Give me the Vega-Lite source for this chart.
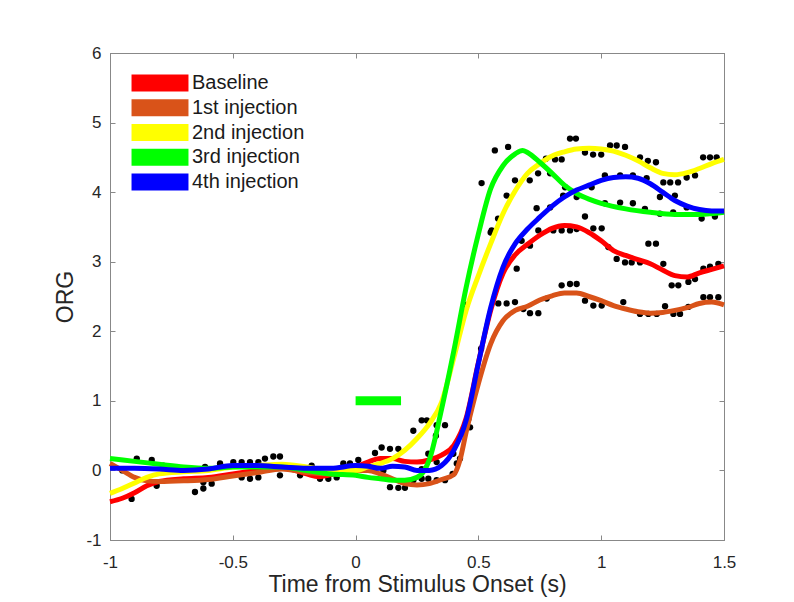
{
  "$schema": "https://vega.github.io/schema/vega-lite/v6.json",
  "width": 614,
  "height": 487,
  "autosize": "none",
  "padding": {"left": 110, "top": 53, "right": 70, "bottom": 62},
  "background": "white",
  "config": {
    "font": "Liberation Sans",
    "view": {"stroke": "#888888", "strokeWidth": 1},
    "axis": {
      "grid": false,
      "domainColor": "#888888",
      "tickColor": "#888888",
      "tickSize": -5,
      "labelFont": "Liberation Sans",
      "labelFontSize": 17,
      "labelColor": "#262626",
      "titleFont": "Liberation Sans",
      "titleFontSize": 23,
      "titleFontWeight": "normal",
      "titleColor": "#262626"
    }
  },
  "datasets": {
    "dots": [
      {"t": -0.95, "v": 0.0}, {"t": -0.891, "v": 0.17}, {"t": -0.83, "v": 0.15}, {"t": -0.783, "v": 0.07}, {"t": -0.81, "v": -0.22}, {"t": -0.912, "v": -0.41},
      {"t": -0.654, "v": -0.31}, {"t": -0.62, "v": -0.26}, {"t": -0.62, "v": -0.17}, {"t": -0.586, "v": -0.19}, {"t": -0.613, "v": 0.05}, {"t": -0.552, "v": 0.1},
      {"t": -0.498, "v": 0.12}, {"t": -0.464, "v": 0.12}, {"t": -0.43, "v": 0.12}, {"t": -0.396, "v": 0.12}, {"t": -0.369, "v": 0.17}, {"t": -0.335, "v": 0.2},
      {"t": -0.308, "v": 0.2}, {"t": -0.464, "v": -0.1}, {"t": -0.43, "v": -0.12}, {"t": -0.396, "v": -0.1}, {"t": -0.308, "v": -0.07}, {"t": -0.226, "v": -0.07},
      {"t": -0.179, "v": 0.07}, {"t": -0.145, "v": -0.12}, {"t": -0.111, "v": -0.12}, {"t": -0.077, "v": -0.1}, {"t": -0.05, "v": 0.1}, {"t": -0.023, "v": 0.1},
      {"t": 0.011, "v": 0.15}, {"t": 0.079, "v": 0.25}, {"t": 0.106, "v": 0.33}, {"t": 0.14, "v": 0.31}, {"t": 0.174, "v": 0.31}, {"t": 0.113, "v": 0.0},
      {"t": 0.14, "v": -0.24}, {"t": 0.174, "v": -0.25}, {"t": 0.201, "v": -0.25}, {"t": 0.235, "v": -0.14}, {"t": 0.235, "v": 0.57}, {"t": 0.269, "v": 0.72},
      {"t": 0.29, "v": 0.72}, {"t": 0.33, "v": 0.65}, {"t": 0.364, "v": 0.65}, {"t": 0.327, "v": 0.5}, {"t": 0.459, "v": 0.74}, {"t": 0.466, "v": 0.62},
      {"t": 0.296, "v": 0.24}, {"t": 0.33, "v": 0.12}, {"t": 0.398, "v": 0.24}, {"t": 0.412, "v": 0.1}, {"t": 0.425, "v": 0.17}, {"t": 0.395, "v": -0.05},
      {"t": 0.269, "v": -0.12}, {"t": 0.296, "v": -0.12}, {"t": 0.33, "v": -0.14}, {"t": 0.364, "v": -0.14}, {"t": 0.269, "v": 0.02},
      {"t": 0.452, "v": 2.38}, {"t": 0.511, "v": 1.75}, {"t": 0.513, "v": 4.13}, {"t": 0.55, "v": 3.42}, {"t": 0.567, "v": 4.6}, {"t": 0.621, "v": 4.65},
      {"t": 0.615, "v": 3.95}, {"t": 0.58, "v": 3.62}, {"t": 0.581, "v": 2.4}, {"t": 0.615, "v": 2.4}, {"t": 0.649, "v": 2.42}, {"t": 0.656, "v": 2.9},
      {"t": 0.676, "v": 3.3}, {"t": 0.71, "v": 3.23}, {"t": 0.683, "v": 2.32}, {"t": 0.71, "v": 2.26}, {"t": 0.744, "v": 2.26}, {"t": 0.778, "v": 2.47},
      {"t": 0.839, "v": 2.66}, {"t": 0.873, "v": 2.68}, {"t": 0.9, "v": 2.68},
      {"t": 0.873, "v": 4.77}, {"t": 0.897, "v": 4.77}, {"t": 0.934, "v": 4.57}, {"t": 0.967, "v": 4.54}, {"t": 1.0, "v": 4.54}, {"t": 1.036, "v": 4.67},
      {"t": 1.063, "v": 4.67}, {"t": 1.097, "v": 4.65}, {"t": 1.158, "v": 4.5}, {"t": 1.19, "v": 4.45}, {"t": 1.223, "v": 4.43}, {"t": 1.415, "v": 4.5},
      {"t": 1.443, "v": 4.5}, {"t": 1.47, "v": 4.5}, {"t": 1.253, "v": 4.14}, {"t": 1.281, "v": 4.14}, {"t": 1.313, "v": 4.14}, {"t": 1.348, "v": 4.21},
      {"t": 1.382, "v": 4.24}, {"t": 0.649, "v": 4.17}, {"t": 0.709, "v": 4.17}, {"t": 0.743, "v": 4.27}, {"t": 0.775, "v": 4.48}, {"t": 0.812, "v": 4.47},
      {"t": 0.839, "v": 4.47}, {"t": 0.792, "v": 4.27}, {"t": 0.845, "v": 3.95}, {"t": 0.853, "v": 4.07}, {"t": 0.9, "v": 3.93}, {"t": 0.961, "v": 4.07},
      {"t": 1.015, "v": 4.24}, {"t": 1.077, "v": 4.24}, {"t": 1.129, "v": 4.24}, {"t": 1.185, "v": 4.2}, {"t": 1.015, "v": 3.84}, {"t": 1.077, "v": 3.85},
      {"t": 1.129, "v": 3.84}, {"t": 1.178, "v": 3.76}, {"t": 1.239, "v": 3.69}, {"t": 1.293, "v": 3.71}, {"t": 1.348, "v": 3.78}, {"t": 1.409, "v": 3.62},
      {"t": 1.463, "v": 3.65}, {"t": 0.737, "v": 3.77}, {"t": 0.792, "v": 3.78}, {"t": 0.934, "v": 3.65}, {"t": 1.239, "v": 3.93}, {"t": 1.3, "v": 3.95},
      {"t": 0.554, "v": 3.45}, {"t": 0.744, "v": 3.45}, {"t": 0.805, "v": 3.45}, {"t": 0.839, "v": 3.45}, {"t": 0.873, "v": 3.45}, {"t": 0.9, "v": 3.47},
      {"t": 0.968, "v": 3.48}, {"t": 1.002, "v": 3.48}, {"t": 1.192, "v": 3.26}, {"t": 1.223, "v": 3.26}, {"t": 1.029, "v": 3.21}, {"t": 1.063, "v": 3.04},
      {"t": 1.097, "v": 2.99}, {"t": 1.124, "v": 2.99}, {"t": 1.158, "v": 2.99}, {"t": 1.253, "v": 2.97}, {"t": 1.287, "v": 2.66}, {"t": 1.314, "v": 2.66},
      {"t": 1.355, "v": 2.71}, {"t": 1.382, "v": 2.75}, {"t": 1.416, "v": 2.9}, {"t": 1.443, "v": 2.93}, {"t": 1.477, "v": 2.97},
      {"t": 0.934, "v": 2.44}, {"t": 0.968, "v": 2.37}, {"t": 1.002, "v": 2.37}, {"t": 1.09, "v": 2.42}, {"t": 1.158, "v": 2.25}, {"t": 1.192, "v": 2.25},
      {"t": 1.226, "v": 2.25}, {"t": 1.26, "v": 2.36}, {"t": 1.294, "v": 2.25}, {"t": 1.321, "v": 2.25}, {"t": 1.355, "v": 2.35}, {"t": 1.416, "v": 2.49},
      {"t": 1.443, "v": 2.49}, {"t": 1.477, "v": 2.49}
    ],
    "curves": [
      {"s": "Baseline", "t": -1, "v": -0.45}, {"s": "Baseline", "t": -0.95, "v": -0.4}, {"s": "Baseline", "t": -0.9, "v": -0.32}, {"s": "Baseline", "t": -0.85, "v": -0.22},
      {"s": "Baseline", "t": -0.8, "v": -0.16}, {"s": "Baseline", "t": -0.7, "v": -0.12}, {"s": "Baseline", "t": -0.6, "v": -0.1}, {"s": "Baseline", "t": -0.5, "v": -0.05},
      {"s": "Baseline", "t": -0.4, "v": 0.0}, {"s": "Baseline", "t": -0.3, "v": 0.04}, {"s": "Baseline", "t": -0.2, "v": -0.05}, {"s": "Baseline", "t": -0.15, "v": -0.09},
      {"s": "Baseline", "t": -0.1, "v": -0.06}, {"s": "Baseline", "t": -0.05, "v": 0.0}, {"s": "Baseline", "t": 0, "v": 0.05}, {"s": "Baseline", "t": 0.05, "v": 0.12},
      {"s": "Baseline", "t": 0.1, "v": 0.17}, {"s": "Baseline", "t": 0.15, "v": 0.17}, {"s": "Baseline", "t": 0.2, "v": 0.13}, {"s": "Baseline", "t": 0.25, "v": 0.12},
      {"s": "Baseline", "t": 0.3, "v": 0.15}, {"s": "Baseline", "t": 0.35, "v": 0.22}, {"s": "Baseline", "t": 0.4, "v": 0.36}, {"s": "Baseline", "t": 0.45, "v": 0.75},
      {"s": "Baseline", "t": 0.5, "v": 1.55}, {"s": "Baseline", "t": 0.55, "v": 2.3}, {"s": "Baseline", "t": 0.6, "v": 2.83}, {"s": "Baseline", "t": 0.65, "v": 3.1},
      {"s": "Baseline", "t": 0.7, "v": 3.25}, {"s": "Baseline", "t": 0.75, "v": 3.38}, {"s": "Baseline", "t": 0.8, "v": 3.48}, {"s": "Baseline", "t": 0.85, "v": 3.52},
      {"s": "Baseline", "t": 0.9, "v": 3.5}, {"s": "Baseline", "t": 0.95, "v": 3.42}, {"s": "Baseline", "t": 1.0, "v": 3.3}, {"s": "Baseline", "t": 1.05, "v": 3.16},
      {"s": "Baseline", "t": 1.1, "v": 3.09}, {"s": "Baseline", "t": 1.15, "v": 3.03}, {"s": "Baseline", "t": 1.2, "v": 2.97}, {"s": "Baseline", "t": 1.25, "v": 2.88},
      {"s": "Baseline", "t": 1.3, "v": 2.8}, {"s": "Baseline", "t": 1.35, "v": 2.78}, {"s": "Baseline", "t": 1.4, "v": 2.84}, {"s": "Baseline", "t": 1.45, "v": 2.89},
      {"s": "Baseline", "t": 1.5, "v": 2.94},

      {"s": "1st injection", "t": -1, "v": 0.1}, {"s": "1st injection", "t": -0.95, "v": 0.0}, {"s": "1st injection", "t": -0.9, "v": -0.1}, {"s": "1st injection", "t": -0.85, "v": -0.15},
      {"s": "1st injection", "t": -0.8, "v": -0.16}, {"s": "1st injection", "t": -0.7, "v": -0.15}, {"s": "1st injection", "t": -0.6, "v": -0.13}, {"s": "1st injection", "t": -0.5, "v": -0.08},
      {"s": "1st injection", "t": -0.4, "v": -0.03}, {"s": "1st injection", "t": -0.3, "v": 0.02}, {"s": "1st injection", "t": -0.2, "v": -0.03}, {"s": "1st injection", "t": -0.1, "v": -0.05},
      {"s": "1st injection", "t": 0, "v": 0.0}, {"s": "1st injection", "t": 0.05, "v": 0.0}, {"s": "1st injection", "t": 0.1, "v": -0.05}, {"s": "1st injection", "t": 0.15, "v": -0.12},
      {"s": "1st injection", "t": 0.2, "v": -0.19}, {"s": "1st injection", "t": 0.25, "v": -0.21}, {"s": "1st injection", "t": 0.3, "v": -0.19}, {"s": "1st injection", "t": 0.35, "v": -0.13},
      {"s": "1st injection", "t": 0.4, "v": -0.06}, {"s": "1st injection", "t": 0.425, "v": 0.15}, {"s": "1st injection", "t": 0.45, "v": 0.55}, {"s": "1st injection", "t": 0.5, "v": 1.25},
      {"s": "1st injection", "t": 0.55, "v": 1.82}, {"s": "1st injection", "t": 0.6, "v": 2.15}, {"s": "1st injection", "t": 0.65, "v": 2.3}, {"s": "1st injection", "t": 0.7, "v": 2.36},
      {"s": "1st injection", "t": 0.75, "v": 2.45}, {"s": "1st injection", "t": 0.8, "v": 2.51}, {"s": "1st injection", "t": 0.85, "v": 2.55}, {"s": "1st injection", "t": 0.9, "v": 2.55},
      {"s": "1st injection", "t": 0.95, "v": 2.5}, {"s": "1st injection", "t": 1.0, "v": 2.44}, {"s": "1st injection", "t": 1.05, "v": 2.37}, {"s": "1st injection", "t": 1.1, "v": 2.32},
      {"s": "1st injection", "t": 1.15, "v": 2.28}, {"s": "1st injection", "t": 1.2, "v": 2.26}, {"s": "1st injection", "t": 1.25, "v": 2.27}, {"s": "1st injection", "t": 1.3, "v": 2.3},
      {"s": "1st injection", "t": 1.35, "v": 2.34}, {"s": "1st injection", "t": 1.4, "v": 2.4}, {"s": "1st injection", "t": 1.45, "v": 2.42}, {"s": "1st injection", "t": 1.5, "v": 2.38},

      {"s": "2nd injection", "t": -1, "v": -0.33}, {"s": "2nd injection", "t": -0.95, "v": -0.26}, {"s": "2nd injection", "t": -0.9, "v": -0.18}, {"s": "2nd injection", "t": -0.85, "v": -0.1},
      {"s": "2nd injection", "t": -0.8, "v": -0.05}, {"s": "2nd injection", "t": -0.7, "v": -0.02}, {"s": "2nd injection", "t": -0.6, "v": 0.0}, {"s": "2nd injection", "t": -0.5, "v": 0.05},
      {"s": "2nd injection", "t": -0.4, "v": 0.07}, {"s": "2nd injection", "t": -0.3, "v": 0.09}, {"s": "2nd injection", "t": -0.2, "v": 0.05}, {"s": "2nd injection", "t": -0.1, "v": 0.0},
      {"s": "2nd injection", "t": 0, "v": 0.0}, {"s": "2nd injection", "t": 0.05, "v": 0.05}, {"s": "2nd injection", "t": 0.1, "v": 0.1}, {"s": "2nd injection", "t": 0.15, "v": 0.17},
      {"s": "2nd injection", "t": 0.2, "v": 0.29}, {"s": "2nd injection", "t": 0.25, "v": 0.46}, {"s": "2nd injection", "t": 0.3, "v": 0.67}, {"s": "2nd injection", "t": 0.35, "v": 0.98},
      {"s": "2nd injection", "t": 0.4, "v": 1.62}, {"s": "2nd injection", "t": 0.45, "v": 2.3}, {"s": "2nd injection", "t": 0.5, "v": 2.8}, {"s": "2nd injection", "t": 0.55, "v": 3.26},
      {"s": "2nd injection", "t": 0.6, "v": 3.69}, {"s": "2nd injection", "t": 0.65, "v": 4.02}, {"s": "2nd injection", "t": 0.7, "v": 4.27}, {"s": "2nd injection", "t": 0.75, "v": 4.41},
      {"s": "2nd injection", "t": 0.8, "v": 4.52}, {"s": "2nd injection", "t": 0.85, "v": 4.58}, {"s": "2nd injection", "t": 0.9, "v": 4.62}, {"s": "2nd injection", "t": 0.95, "v": 4.63},
      {"s": "2nd injection", "t": 1.0, "v": 4.62}, {"s": "2nd injection", "t": 1.05, "v": 4.59}, {"s": "2nd injection", "t": 1.1, "v": 4.53}, {"s": "2nd injection", "t": 1.15, "v": 4.45},
      {"s": "2nd injection", "t": 1.2, "v": 4.35}, {"s": "2nd injection", "t": 1.25, "v": 4.27}, {"s": "2nd injection", "t": 1.3, "v": 4.25}, {"s": "2nd injection", "t": 1.35, "v": 4.28},
      {"s": "2nd injection", "t": 1.4, "v": 4.34}, {"s": "2nd injection", "t": 1.45, "v": 4.41}, {"s": "2nd injection", "t": 1.5, "v": 4.47},

      {"s": "3rd injection", "t": -1, "v": 0.17}, {"s": "3rd injection", "t": -0.9, "v": 0.13}, {"s": "3rd injection", "t": -0.8, "v": 0.09}, {"s": "3rd injection", "t": -0.7, "v": 0.05},
      {"s": "3rd injection", "t": -0.6, "v": 0.03}, {"s": "3rd injection", "t": -0.5, "v": 0.05}, {"s": "3rd injection", "t": -0.4, "v": 0.05}, {"s": "3rd injection", "t": -0.3, "v": 0.05},
      {"s": "3rd injection", "t": -0.2, "v": 0.0}, {"s": "3rd injection", "t": -0.1, "v": -0.05}, {"s": "3rd injection", "t": 0, "v": -0.07}, {"s": "3rd injection", "t": 0.05, "v": -0.1},
      {"s": "3rd injection", "t": 0.1, "v": -0.12}, {"s": "3rd injection", "t": 0.15, "v": -0.14}, {"s": "3rd injection", "t": 0.2, "v": -0.14}, {"s": "3rd injection", "t": 0.25, "v": -0.1},
      {"s": "3rd injection", "t": 0.28, "v": 0.0}, {"s": "3rd injection", "t": 0.3, "v": 0.15}, {"s": "3rd injection", "t": 0.35, "v": 0.88}, {"s": "3rd injection", "t": 0.4, "v": 1.72},
      {"s": "3rd injection", "t": 0.45, "v": 2.63}, {"s": "3rd injection", "t": 0.5, "v": 3.4}, {"s": "3rd injection", "t": 0.55, "v": 4.05}, {"s": "3rd injection", "t": 0.6, "v": 4.38},
      {"s": "3rd injection", "t": 0.65, "v": 4.55}, {"s": "3rd injection", "t": 0.68, "v": 4.6}, {"s": "3rd injection", "t": 0.7, "v": 4.57}, {"s": "3rd injection", "t": 0.75, "v": 4.43},
      {"s": "3rd injection", "t": 0.8, "v": 4.27}, {"s": "3rd injection", "t": 0.85, "v": 4.1}, {"s": "3rd injection", "t": 0.9, "v": 3.98}, {"s": "3rd injection", "t": 0.95, "v": 3.9},
      {"s": "3rd injection", "t": 1.0, "v": 3.84}, {"s": "3rd injection", "t": 1.1, "v": 3.76}, {"s": "3rd injection", "t": 1.2, "v": 3.71}, {"s": "3rd injection", "t": 1.3, "v": 3.68},
      {"s": "3rd injection", "t": 1.4, "v": 3.68}, {"s": "3rd injection", "t": 1.5, "v": 3.71},

      {"s": "4th injection", "t": -1, "v": 0.03}, {"s": "4th injection", "t": -0.9, "v": 0.03}, {"s": "4th injection", "t": -0.8, "v": 0.02}, {"s": "4th injection", "t": -0.7, "v": 0.0},
      {"s": "4th injection", "t": -0.6, "v": 0.02}, {"s": "4th injection", "t": -0.5, "v": 0.07}, {"s": "4th injection", "t": -0.4, "v": 0.07}, {"s": "4th injection", "t": -0.3, "v": 0.05},
      {"s": "4th injection", "t": -0.2, "v": 0.03}, {"s": "4th injection", "t": -0.1, "v": 0.03}, {"s": "4th injection", "t": 0, "v": 0.07}, {"s": "4th injection", "t": 0.05, "v": 0.06},
      {"s": "4th injection", "t": 0.1, "v": 0.03}, {"s": "4th injection", "t": 0.15, "v": 0.06}, {"s": "4th injection", "t": 0.2, "v": 0.05}, {"s": "4th injection", "t": 0.25, "v": 0.0},
      {"s": "4th injection", "t": 0.3, "v": 0.0}, {"s": "4th injection", "t": 0.35, "v": 0.07}, {"s": "4th injection", "t": 0.4, "v": 0.29}, {"s": "4th injection", "t": 0.45, "v": 0.72},
      {"s": "4th injection", "t": 0.5, "v": 1.54}, {"s": "4th injection", "t": 0.55, "v": 2.34}, {"s": "4th injection", "t": 0.6, "v": 2.92}, {"s": "4th injection", "t": 0.65, "v": 3.26},
      {"s": "4th injection", "t": 0.7, "v": 3.47}, {"s": "4th injection", "t": 0.75, "v": 3.64}, {"s": "4th injection", "t": 0.8, "v": 3.8}, {"s": "4th injection", "t": 0.85, "v": 3.93},
      {"s": "4th injection", "t": 0.9, "v": 4.03}, {"s": "4th injection", "t": 0.95, "v": 4.1}, {"s": "4th injection", "t": 1.0, "v": 4.17}, {"s": "4th injection", "t": 1.05, "v": 4.21},
      {"s": "4th injection", "t": 1.1, "v": 4.22}, {"s": "4th injection", "t": 1.15, "v": 4.2}, {"s": "4th injection", "t": 1.2, "v": 4.12}, {"s": "4th injection", "t": 1.25, "v": 4.0},
      {"s": "4th injection", "t": 1.3, "v": 3.88}, {"s": "4th injection", "t": 1.35, "v": 3.8}, {"s": "4th injection", "t": 1.4, "v": 3.75}, {"s": "4th injection", "t": 1.45, "v": 3.73},
      {"s": "4th injection", "t": 1.5, "v": 3.73}
    ],
    "stim": [{"t0": 0, "t1": 0.185, "v": 1}]
  },
  "layer": [
    {
      "data": {"name": "dots"},
      "mark": {"type": "circle", "size": 40, "color": "#000000", "opacity": 1},
      "encoding": {
        "x": {"field": "t", "type": "quantitative", "scale": {"domain": [-1, 1.5], "nice": false, "zero": false},
          "axis": {"values": [-1, -0.5, 0, 0.5, 1, 1.5], "labelExpr": "'' + datum.value", "title": "Time from Stimulus Onset (s)", "labelPadding": 19, "titlePadding": 3, "labelFlush": false}},
        "y": {"field": "v", "type": "quantitative", "scale": {"domain": [-1, 6], "nice": false, "zero": false},
          "axis": {"values": [-1, 0, 1, 2, 3, 4, 5, 6], "labelExpr": "'' + datum.value", "title": "ORG", "labelPadding": 14, "titlePadding": 8, "labelFlush": false}}
      }
    },
    {
      "data": {"name": "curves"},
      "mark": {"type": "line", "strokeWidth": 5, "interpolate": "monotone"},
      "encoding": {
        "x": {"field": "t", "type": "quantitative", "axis": null},
        "y": {"field": "v", "type": "quantitative", "axis": null},
        "color": {
          "field": "s", "type": "nominal",
          "scale": {"domain": ["Baseline", "1st injection", "2nd injection", "3rd injection", "4th injection"],
                    "range": ["#ff0000", "#d95319", "#ffff00", "#00ff00", "#0000ff"]},
          "legend": {
            "title": null, "orient": "none", "legendX": 40, "legendY": 20,
            "symbolType": "M-3.35,-1H3.35V1H-3.35Z", "symbolSize": 289, "symbolStrokeWidth": 0,
            "labelFont": "Liberation Sans", "labelFontSize": 20, "labelColor": "#1a1a1a",
            "labelOffset": 22, "rowPadding": 4.75, "padding": 0,
            "encode": {"symbols": {"update": {"fill": {"scale": "color", "field": "value"}, "opacity": {"value": 1}}}}
          }
        }
      }
    },
    {
      "data": {"name": "stim"},
      "mark": {"type": "rule", "strokeWidth": 9, "color": "#00ff00", "strokeCap": "butt"},
      "encoding": {
        "x": {"field": "t0", "type": "quantitative", "axis": {"orient": "top", "labels": false, "title": null, "values": [-1, -0.5, 0, 0.5, 1, 1.5]}},
        "x2": {"field": "t1"},
        "y": {"field": "v", "type": "quantitative", "axis": {"orient": "right", "labels": false, "title": null, "values": [-1, 0, 1, 2, 3, 4, 5, 6]}}
      }
    }
  ],
  "resolve": {"axis": {"x": "independent", "y": "independent"}}
}
